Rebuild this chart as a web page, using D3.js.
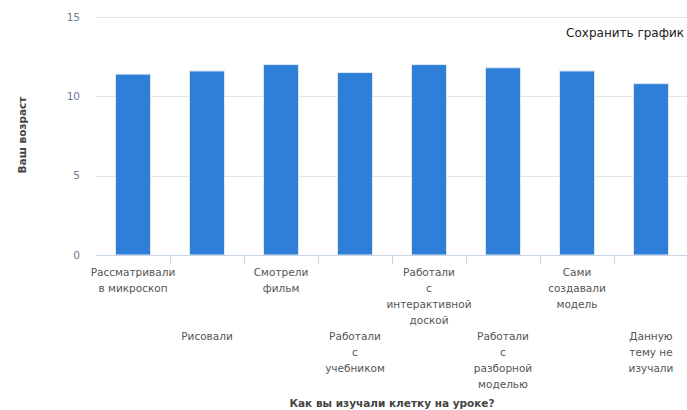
<!DOCTYPE html>
<html><head><meta charset="utf-8">
<script src="https://cdn.jsdelivr.net/npm/d3@7"></script>
<style>body{margin:0;background:#fff;} svg{display:block;}</style>
</head><body>
<svg id="chart" width="687" height="410"></svg>
<script>
const categories = [
  ["Рассматривали","в микроскоп"],
  ["Рисовали"],
  ["Смотрели","фильм"],
  ["Работали","с","учебником"],
  ["Работали","с","интерактивной","доской"],
  ["Работали","с","разборной","моделью"],
  ["Сами","создавали","модель"],
  ["Данную","тему не","изучали"]
];
const values = [11.4, 11.6, 12.0, 11.5, 12.0, 11.8, 11.6, 10.8];
const yTicks = [0, 5, 10, 15];
const yTitle = "Ваш возраст";
const xTitle = "Как вы изучали клетку на уроке?";
const saveText = "Сохранить график";

(function(){
const svg = d3.select("#chart");
const font = "'DejaVu Sans', Verdana, sans-serif";
const pl = 96, pr = 688, pt = 17, pb = 255;

const x = d3.scaleBand().domain(d3.range(categories.length)).range([pl, pr]).paddingInner(0).paddingOuter(0);
const y = d3.scaleLinear().domain([0, 15]).range([pb, pt]);

// gridlines
svg.append("g").selectAll("line").data(yTicks.filter(d => d > 0)).join("line")
  .attr("x1", pl).attr("x2", pr)
  .attr("y1", d => Math.round(y(d)) + 0.5).attr("y2", d => Math.round(y(d)) + 0.5)
  .attr("stroke", "#e3e3e3").attr("stroke-width", 1);

// y labels
svg.append("g").selectAll("text").data(yTicks).join("text")
  .attr("x", 80).attr("y", d => y(d)).attr("dy", "0.35em")
  .attr("text-anchor", "end").attr("font-family", font).attr("font-size", 10.5)
  .attr("fill", "#6a7a90").text(d => d);

// bars
const bw = 35;
svg.append("g").selectAll("rect").data(values).join("rect")
  .attr("x", (d, i) => x(i) + x.bandwidth() / 2 - bw / 2)
  .attr("width", bw)
  .attr("y", d => y(d))
  .attr("height", d => y(0) - y(d))
  .attr("fill", "#2f7ed8").attr("stroke", "#dbe8f8").attr("stroke-width", 1);

// x axis line
svg.append("line").attr("x1", pl).attr("x2", pr).attr("y1", pb + 0.5).attr("y2", pb + 0.5)
  .attr("stroke", "#c8d6e6").attr("stroke-width", 1);
// ticks at boundaries
svg.append("g").selectAll("line").data(d3.range(1, categories.length + 1)).join("line")
  .attr("x1", i => Math.round(pl + i * x.bandwidth()) + 0.5)
  .attr("x2", i => Math.round(pl + i * x.bandwidth()) + 0.5)
  .attr("y1", pb).attr("y2", pb + 9)
  .attr("stroke", "#c8d6e6").attr("stroke-width", 1);

// category labels (staggered)
const lab = svg.append("g").selectAll("text").data(categories).join("text")
  .attr("text-anchor", "middle").attr("font-family", font).attr("font-size", 10.5)
  .attr("fill", "#555");
lab.each(function(lines, i) {
  const t = d3.select(this);
  const cx = x(i) + x.bandwidth() / 2;
  const y0 = i % 2 === 0 ? 276 : 340;
  lines.forEach((ln, k) => {
    t.append("tspan").attr("x", cx).attr("y", y0 + k * 16).text(ln);
  });
});

// axis titles
svg.append("text").attr("x", (pl + pr) / 2).attr("y", 407)
  .attr("text-anchor", "middle").attr("font-family", font).attr("font-size", 10.5)
  .attr("font-weight", "bold").attr("fill", "#444").text(xTitle);
svg.append("text").attr("transform", "translate(26,135) rotate(-90)")
  .attr("text-anchor", "middle").attr("font-family", font).attr("font-size", 10.5)
  .attr("font-weight", "bold").attr("fill", "#444").text(yTitle);

// save link
svg.append("text").attr("x", 684).attr("y", 37).attr("text-anchor", "end")
  .attr("font-family", font).attr("font-size", 12).attr("fill", "#222").text(saveText);
})();
</script>
</body></html>
